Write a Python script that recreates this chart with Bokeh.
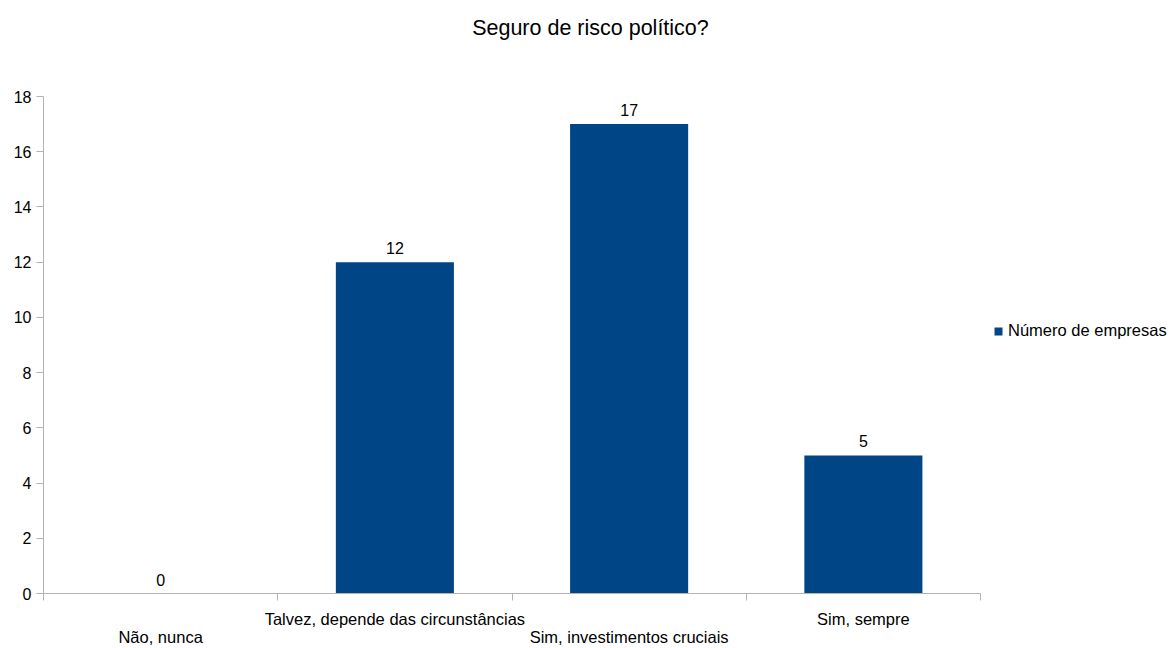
from bokeh.plotting import figure
from bokeh.models import (Range1d, LinearAxis, FixedTicker, ColumnDataSource,
                          Legend, LegendItem)
from bokeh.core.properties import value
from bokeh.embed import file_html
from bokeh.resources import INLINE

# ---- data ----
categories = ["Não, nunca", "Talvez, depende das circunstâncias",
              "Sim, investimentos cruciais", "Sim, sempre"]
values = [0, 12, 17, 5]
series_name = "Número de empresas"
title_text = "Seguro de risco político?"
y_ticks = [0, 2, 4, 6, 8, 10, 12, 14, 16, 18]

FONT = "Liberation Sans"
BAR = "#004586"
AXIS = "#b3b3b3"

W, H = 1174, 648
LEFT, AXIS_RIGHT = 43, 980
n = len(categories)
# frame extends to the right edge (room for the legend); axes are bounded to the categories
x_max = n * (W - LEFT) / (AXIS_RIGHT - LEFT)

xs = [i + 0.5 for i in range(n)]
src = ColumnDataSource(dict(x=xs, top=values, lbl=[str(v) for v in values]))

p = figure(width=W, height=H, output_backend="svg", toolbar_location=None,
           x_range=Range1d(0, x_max), y_range=Range1d(0, 18),
           x_axis_location=None, y_axis_location=None,
           min_border_left=LEFT, min_border_right=0, min_border_top=96,
           min_border_bottom=54)
p.outline_line_color = None
p.xgrid.visible = False
p.ygrid.visible = False

r = p.vbar(x="x", top="top", width=0.504, source=src, fill_color=BAR,
           line_color=None)
p.text(x="x", y="top", text="lbl", source=src, text_align="center",
       text_baseline="bottom", y_offset=-8, text_font=value(FONT),
       text_font_size="16px", text_color="#000000")

# title, drawn as a label-only axis above the chart
title_x = 2.335
ta = LinearAxis(ticker=FixedTicker(ticks=[title_x]))
ta.axis_line_color = None
ta.major_tick_line_color = None
ta.minor_tick_line_color = None
ta.major_tick_in = 0
ta.major_tick_out = 0
ta.major_label_standoff = 57
ta.major_label_text_font = FONT
ta.major_label_text_font_size = "21.5px"
ta.major_label_text_color = "#000000"
ta.major_label_overrides = {title_x: title_text}
p.add_layout(ta, "above")

# y axis
ya = LinearAxis(ticker=FixedTicker(ticks=y_ticks))
ya.axis_line_color = AXIS
ya.major_tick_line_color = AXIS
ya.major_tick_in = 0
ya.major_tick_out = 7
ya.minor_tick_line_color = None
ya.major_label_standoff = 5
ya.major_label_text_font = FONT
ya.major_label_text_font_size = "16px"
ya.major_label_text_color = "#000000"
p.add_layout(ya, "left")

# x axis: boundary ticks
xa = LinearAxis(ticker=FixedTicker(ticks=list(range(n + 1))), bounds=(0, n))
xa.axis_line_color = AXIS
xa.major_tick_line_color = AXIS
xa.major_tick_in = 0
xa.major_tick_out = 7
xa.minor_tick_line_color = None
xa.major_label_text_font_size = "0px"
xa.major_label_standoff = 0
xa.major_label_overrides = {i: "" for i in range(n + 1)}
p.add_layout(xa, "below")

def label_axis(idx, standoff):
    ticks = [xs[i] for i in idx]
    a = LinearAxis(ticker=FixedTicker(ticks=ticks))
    a.axis_line_color = None
    a.major_tick_line_color = None
    a.minor_tick_line_color = None
    a.major_tick_out = 0
    a.major_tick_in = 0
    a.major_label_standoff = standoff
    a.major_label_text_font = FONT
    a.major_label_text_font_size = "16.5px"
    a.major_label_text_color = "#000000"
    a.major_label_overrides = {xs[i]: categories[i] for i in idx}
    return a

p.add_layout(label_axis([1, 3], 9), "below")
p.add_layout(label_axis([0, 2], -3), "below")

legend = Legend(items=[LegendItem(label=series_name, renderers=[r])],
                location=(950, 253), orientation="vertical",
                glyph_width=10, glyph_height=10, label_standoff=5,
                label_text_font=FONT, label_text_font_size="16.5px",
                label_text_color="#000000", border_line_color=None,
                background_fill_color=None, padding=0, margin=0)
p.add_layout(legend)

open("out.html", "w").write(file_html(p, INLINE))
